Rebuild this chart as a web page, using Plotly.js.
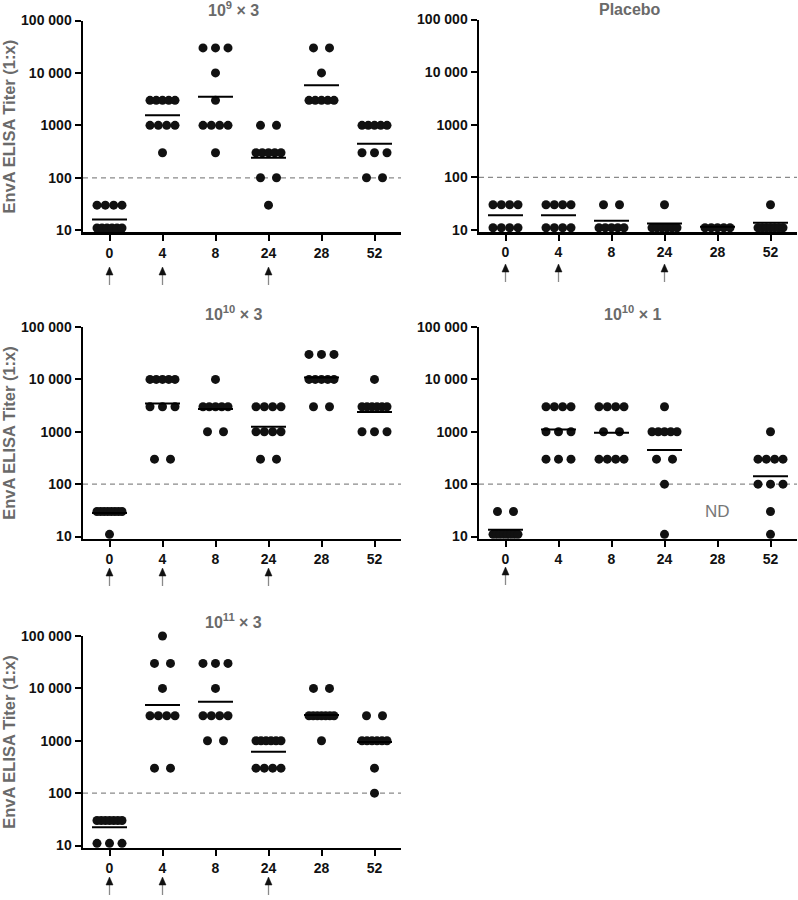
<!DOCTYPE html>
<html><head><meta charset="utf-8">
<script src="https://cdn.plot.ly/plotly-3.0.1.min.js"></script>
<style>html,body{margin:0;padding:0;background:#fff}#chart{width:798px;height:900px}</style>
</head><body><div id="chart"></div>
<script>
// ---------- data (values of 11 = below detection, drawn just above the 10 line) ----------
const weeks = ['0', '4', '8', '24', '28', '52'];
const panelTitles = ['10<sup>9</sup> × 3', 'Placebo', '10<sup>10</sup> × 3', '10<sup>10</sup> × 1', '10<sup>11</sup> × 3'];
const yTickVals = [10, 100, 1000, 10000, 100000];
const yTickText = ['10', '100', '1000', '10 000', '100 000'];
const cutoff = 100;

const titer_1e9x3 = [
  [30, 30, 30, 30, 11, 11, 11, 11, 11, 11],
  [3000, 3000, 3000, 3000, 3000, 1000, 1000, 1000, 1000, 300],
  [30000, 30000, 30000, 10000, 3000, 1000, 1000, 1000, 1000, 300],
  [1000, 1000, 300, 300, 300, 300, 300, 100, 100, 30],
  [30000, 30000, 10000, 3000, 3000, 3000, 3000, 3000],
  [1000, 1000, 1000, 1000, 1000, 300, 300, 300, 100, 100]
];
const titer_placebo = [
  [30, 30, 30, 30, 11, 11, 11, 11],
  [30, 30, 30, 30, 11, 11, 11, 11],
  [30, 30, 11, 11, 11, 11, 11],
  [30, 11, 11, 11, 11, 11, 11],
  [11, 11, 11, 11, 11],
  [30, 11, 11, 11, 11, 11, 11, 11]
];
const titer_1e10x3 = [
  [30, 30, 30, 30, 30, 30, 30, 30, 11],
  [10000, 10000, 10000, 10000, 10000, 3000, 3000, 3000, 300, 300],
  [10000, 3000, 3000, 3000, 3000, 3000, 1000, 1000],
  [3000, 3000, 3000, 3000, 1000, 1000, 1000, 1000, 300, 300],
  [30000, 30000, 30000, 10000, 10000, 10000, 10000, 10000, 3000, 3000],
  [10000, 3000, 3000, 3000, 3000, 3000, 3000, 1000, 1000, 1000]
];
const titer_1e10x1 = [
  [30, 30, 11, 11, 11, 11, 11, 11, 11, 11],
  [3000, 3000, 3000, 3000, 1000, 1000, 1000, 300, 300, 300],
  [3000, 3000, 3000, 3000, 1000, 1000, 300, 300, 300, 300],
  [3000, 1000, 1000, 1000, 1000, 1000, 300, 300, 100, 11],
  [],
  [1000, 300, 300, 300, 300, 100, 100, 100, 30, 11]
];
const titer_1e11x3 = [
  [30, 30, 30, 30, 30, 30, 30, 11, 11, 11],
  [100000, 30000, 30000, 10000, 3000, 3000, 3000, 3000, 300, 300],
  [30000, 30000, 30000, 10000, 3000, 3000, 3000, 3000, 1000, 1000],
  [1000, 1000, 1000, 1000, 1000, 1000, 300, 300, 300, 300],
  [10000, 10000, 3000, 3000, 3000, 3000, 3000, 3000, 3000, 1000],
  [3000, 3000, 1000, 1000, 1000, 1000, 1000, 1000, 300, 100]
];
// geometric mean bars
const gmt_1e9x3 = [16, 1550, 3500, 240, 5800, 445];
const gmt_placebo = [19, 19, 15, 13.3, 11.5, 13.7];
const gmt_1e10x3 = [28, 3480, 2710, 1250, 10900, 2380];
const gmt_1e10x1 = [13.4, 1110, 957, 447, null, 142];
const gmt_1e11x3 = [22.3, 4820, 5570, 617, 3100, 950];
// weeks (indices) with a dose arrow
const doses_3 = [0, 1, 3];
const doses_1 = [0];

const panels = [
  {data: titer_1e9x3, gmt: gmt_1e9x3, doses: doses_3},
  {data: titer_placebo, gmt: gmt_placebo, doses: doses_3},
  {data: titer_1e10x3, gmt: gmt_1e10x3, doses: doses_3},
  {data: titer_1e10x1, gmt: gmt_1e10x1, doses: doses_1, nd: 4},
  {data: titer_1e11x3, gmt: gmt_1e11x3, doses: doses_3}
];

// ---------- layout geometry (pixels) ----------
const W = 798, H = 900;
const boxes = [
  {x0: 83, x1: 401, top: 20.5, bot: 232.3, title: [233, 9], arrowTip: 267},
  {x0: 479, x1: 797, top: 19.5, bot: 232, title: [630, 9], arrowTip: 264},
  {x0: 83, x1: 401, top: 327, bot: 538.6, title: [233, 313], arrowTip: 568},
  {x0: 479, x1: 797, top: 327, bot: 538.6, title: [632, 313], arrowTip: 567},
  {x0: 83, x1: 401, top: 636, bot: 847.6, title: [233, 621], arrowTip: 877}
];
const FONT = 'Liberation Sans, Arial, Helvetica, sans-serif';

function rowOffsets(n) {
  if (n <= 1) return [0];
  const span = Math.min(16 * (n - 1), 25);
  const s = span / (n - 1);
  return Array.from({length: n}, (_, k) => (k - (n - 1) / 2) * s);
}

const traces = [];
const layout = {
  width: W, height: H, margin: {l: 0, r: 0, t: 0, b: 0},
  paper_bgcolor: '#fff', plot_bgcolor: '#fff', showlegend: false,
  font: {family: FONT}, annotations: [], shapes: []
};

panels.forEach((p, i) => {
  const b = boxes[i];
  const xa = 'x' + (i + 1), ya = 'y' + (i + 1);
  const xk = 'xaxis' + (i === 0 ? '' : i + 1), yk = 'yaxis' + (i === 0 ? '' : i + 1);
  const pxPerUnit = (b.x1 - b.x0) / 6;
  const xs = [], ys = [];
  p.data.forEach((vals, w) => {
    const groups = new Map();
    vals.forEach(v => groups.set(v, (groups.get(v) || 0) + 1));
    groups.forEach((n, v) => {
      rowOffsets(n).forEach(o => { xs.push(w + o / pxPerUnit); ys.push(v); });
    });
  });
  traces.push({type: 'scatter', mode: 'markers', x: xs, y: ys, xaxis: xa, yaxis: ya,
    marker: {size: 9, color: '#111'}, cliponaxis: false, hoverinfo: 'skip'});
  const mx = [], my = [];
  p.gmt.forEach((m, w) => {
    if (m === null) return;
    mx.push(w - 0.33, w + 0.33, null); my.push(m, m, null);
  });
  traces.push({type: 'scatter', mode: 'lines', x: mx, y: my, xaxis: xa, yaxis: ya,
    line: {color: '#000', width: 2}, cliponaxis: false, hoverinfo: 'skip'});

  layout[xk] = {
    domain: [b.x0 / W, b.x1 / W], anchor: ya, range: [-0.5, 5.5],
    tickvals: [0, 1, 2, 3, 4, 5], ticktext: weeks,
    showline: true, linewidth: 2.5, linecolor: '#000', mirror: false,
    ticks: 'outside', ticklen: 6, tickwidth: 2, tickcolor: '#000',
    showgrid: false, zeroline: false, automargin: false,
    tickfont: {family: FONT, size: 14, color: '#111', weight: 'bold'}
  };
  layout[yk] = {
    domain: [1 - b.bot / H, 1 - b.top / H], anchor: xa, type: 'log', range: [0.96, 5],
    tickvals: yTickVals, ticktext: yTickText,
    showline: true, linewidth: 2.5, linecolor: '#000',
    ticks: 'outside', ticklen: 6, tickwidth: 2, tickcolor: '#000',
    showgrid: false, zeroline: false, automargin: false,
    tickfont: {family: FONT, size: 14, color: '#111', weight: 'bold'}
  };
  layout.shapes.push({type: 'line', xref: xa + ' domain', x0: 0, x1: 1, yref: ya, y0: cutoff, y1: cutoff,
    line: {color: '#8a8a8a', width: 1.2, dash: '5px,4px'}, layer: 'below'});
  layout.annotations.push({xref: 'paper', yref: 'paper', x: b.title[0] / W, y: 1 - b.title[1] / H,
    text: panelTitles[i], showarrow: false, xanchor: 'center', yanchor: 'middle',
    font: {family: FONT, size: 16, color: '#6a6a6a', weight: 'bold'}});
  if (i % 2 === 0) {
    layout.annotations.push({xref: 'paper', yref: 'paper', x: 9 / W, y: 1 - ((b.top + b.bot) / 2) / H,
      text: 'EnvA ELISA Titer (1:x)', showarrow: false, textangle: -90, xanchor: 'center', yanchor: 'middle',
      font: {family: FONT, size: 16.5, color: '#6a6a6a', weight: 'bold'}});
  }
  // dose arrows: gray shaft + black triangular head
  p.doses.forEach(w => {
    const tip = 1 - b.arrowTip / H;
    layout.shapes.push({type: 'line', xref: xa, xsizemode: 'pixel', xanchor: w, x0: 0, x1: 0,
      yref: 'paper', y0: tip - 6 / H, y1: tip - 18 / H, line: {color: '#8a8a8a', width: 1.3}});
    layout.shapes.push({type: 'path', xref: xa, xsizemode: 'pixel', xanchor: w, yref: 'paper',
      path: `M -3.5,${tip - 8 / H} L 3.5,${tip - 8 / H} L 0,${tip} Z`,
      fillcolor: '#111', line: {color: '#111', width: 0.5}});
  });
  if (p.nd !== undefined) {
    layout.annotations.push({xref: xa, yref: ya, x: p.nd, y: Math.log10(30), text: 'ND', showarrow: false,
      font: {family: FONT, size: 17, color: '#777'}});
  }
});

Plotly.newPlot('chart', traces, layout, {staticPlot: true, displayModeBar: false});
</script></body></html>
